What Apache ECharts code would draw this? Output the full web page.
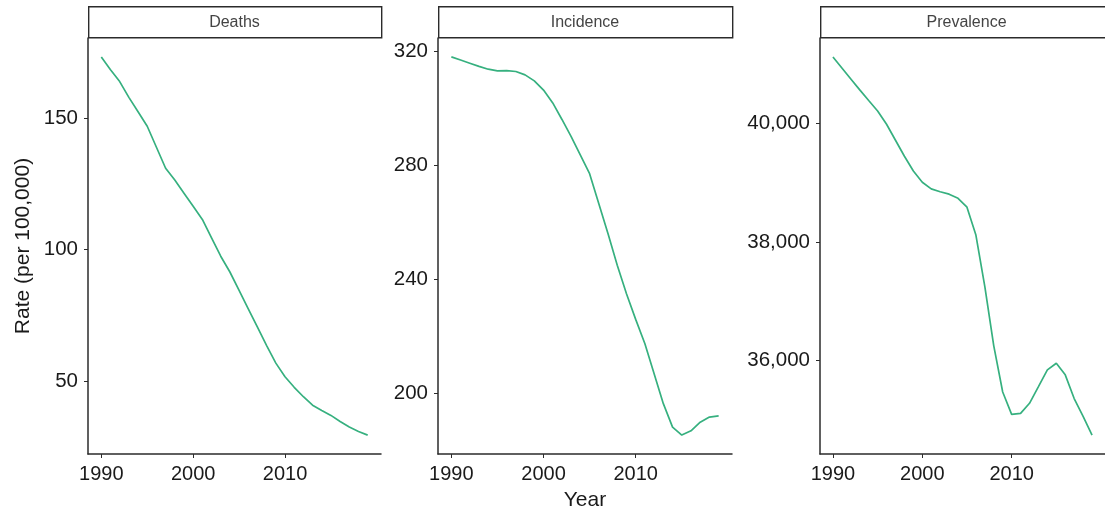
<!DOCTYPE html>
<html>
<head>
<meta charset="utf-8">
<script src="https://cdn.jsdelivr.net/npm/echarts@6/dist/echarts.min.js"></script>
<style>
  html, body { margin: 0; padding: 0; background: #fff; }
  #chart { width: 1105px; height: 516px; }
</style>
</head>
<body>
<div id="chart"></div>
<script>
// data
const years = [1990, 1991, 1992, 1993, 1994, 1995, 1996, 1997, 1998, 1999,
               2000, 2001, 2002, 2003, 2004, 2005, 2006, 2007, 2008, 2009,
               2010, 2011, 2012, 2013, 2014, 2015, 2016, 2017, 2018, 2019];
const panels = ['Deaths', 'Incidence', 'Prevalence'];
const deaths = [173.4, 168.5, 164.0, 158.0, 152.5, 147.0, 139.0, 131.0, 126.5, 121.5,
                116.5, 111.5, 104.5, 97.5, 91.5, 84.5, 77.5, 70.5, 63.5, 56.8,
                51.6, 47.6, 44.0, 40.8, 38.8, 36.9, 34.6, 32.5, 30.8, 29.4];
const incidence = [317.9, 316.8, 315.7, 314.6, 313.6, 313.0, 313.1, 312.8, 311.6, 309.5,
                   306.3, 301.8, 296.0, 290.0, 283.5, 277.0, 266.5, 256.0, 245.0, 235.0,
                   226.0, 217.5, 207.0, 196.5, 188.3, 185.5, 187.0, 190.0, 191.8, 192.2];
const prevalence = [41127, 40940, 40755, 40570, 40390, 40215, 39990, 39720, 39450, 39200,
                    39012, 38900, 38850, 38810, 38740, 38590, 38120, 37250, 36250, 35470,
                    35093, 35110, 35280, 35560, 35843, 35956, 35760, 35360, 35060, 34743];
const xTicks = [1990, 2000, 2010];
const yTicks = [[50, 100, 150], [200, 240, 280, 320], [36000, 38000, 40000]];
const series = [deaths, incidence, prevalence];

const chart = echarts.init(document.getElementById('chart'));
const FONT = '"Liberation Sans", Arial, sans-serif';
const lineCol = '#36b07f';
const axisCol = '#2b2b2b';

// ggplot-style 5% expansion
function expand(arr) {
  const lo = Math.min(...arr), hi = Math.max(...arr);
  const pad = (hi - lo) * 0.05;
  return [lo - pad, hi + pad];
}
const xr = expand(years);

const gridPos = [
  { left: 88, top: 38, width: 293, height: 416 },
  { left: 438, top: 38, width: 294, height: 416 },
  { left: 820, top: 38, width: 293, height: 416 }
];

const grid = [], xAxis = [], yAxis = [], ser = [], graphic = [];
panels.forEach((name, i) => {
  grid.push(gridPos[i]);
  xAxis.push({
    type: 'value', gridIndex: i, min: xr[0], max: xr[1],
    name: i === 1 ? 'Year' : '', nameLocation: 'middle', nameGap: 36,
    nameTextStyle: { fontFamily: FONT, fontSize: 21, color: '#1a1a1a' },
    axisLine: { show: true, lineStyle: { color: axisCol, width: 1.5 } },
    axisTick: { show: true, length: 4, customValues: xTicks, lineStyle: { color: axisCol, width: 1 } },
    axisLabel: { customValues: xTicks, margin: 10, fontFamily: FONT, fontSize: 20, color: '#1a1a1a',
                 formatter: v => String(v) },
    splitLine: { show: false }
  });
  const yr = expand(series[i]);
  yAxis.push({
    type: 'value', gridIndex: i, min: yr[0], max: yr[1],
    name: i === 0 ? 'Rate (per 100,000)' : '', nameLocation: 'middle', nameGap: 54,
    nameTextStyle: { fontFamily: FONT, fontSize: 21, color: '#1a1a1a' },
    axisLine: { show: true, lineStyle: { color: axisCol, width: 1.5 } },
    axisTick: { show: true, length: 4, customValues: yTicks[i], lineStyle: { color: axisCol, width: 1 } },
    axisLabel: { customValues: yTicks[i], margin: 10, fontFamily: FONT, fontSize: 20.5, color: '#1a1a1a',
                 formatter: v => v.toLocaleString('en-US') },
    splitLine: { show: false }
  });
  ser.push({
    type: 'line', xAxisIndex: i, yAxisIndex: i,
    data: years.map((y, k) => [y, series[i][k]]),
    showSymbol: false, silent: true,
    lineStyle: { color: lineCol, width: 1.7 }
  });
  const g = gridPos[i];
  graphic.push({
    type: 'rect', left: g.left, top: 6,
    shape: { width: g.width, height: 31 },
    style: { fill: '#fff', stroke: axisCol, lineWidth: 1.4 }
  });
  graphic.push({
    type: 'text', x: g.left + g.width / 2, y: 23,
    style: { text: name, fontFamily: FONT, fontSize: 16, fill: '#444',
             textAlign: 'center', textVerticalAlign: 'middle' }
  });
});

chart.setOption({
  animation: false,
  backgroundColor: '#fff',
  grid, xAxis, yAxis, series: ser, graphic
});
</script>
</body>
</html>
